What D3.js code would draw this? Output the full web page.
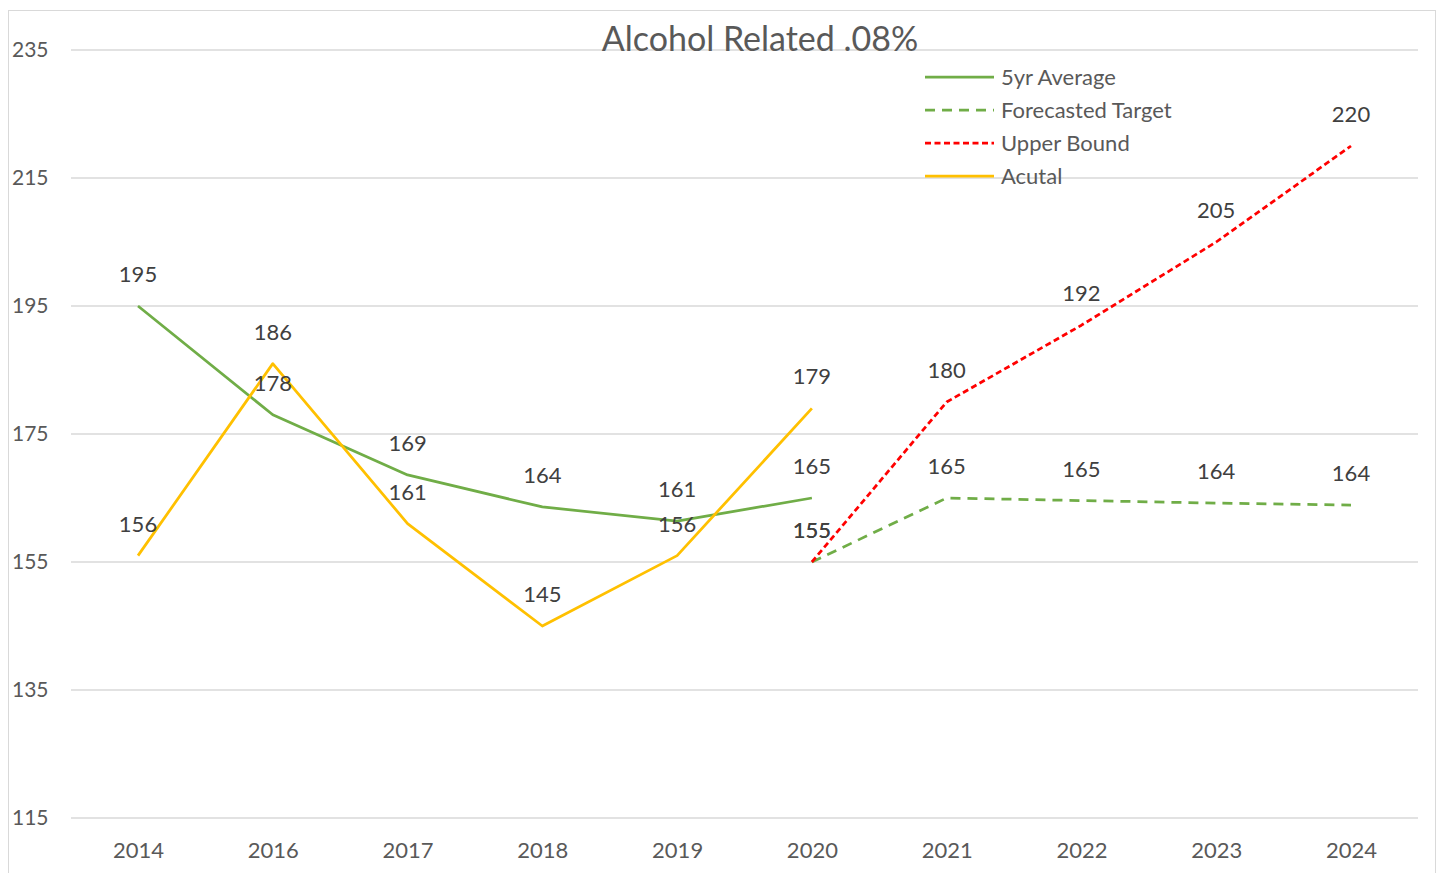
<!DOCTYPE html>
<html><head><meta charset="utf-8">
<script src="https://cdn.jsdelivr.net/npm/d3@7"></script>
<style>body{margin:0;background:#fff;} svg{display:block;font-family:Lato,"Open Sans",sans-serif;}</style>
</head><body><svg id="c" width="1438" height="873"></svg>
<script>
const categories = ["2014","2016","2017","2018","2019","2020","2021","2022","2023","2024"];
const avgYears = ["2014","2016","2017","2018","2019","2020"];
const avgValues = [195,178,168.6,163.6,161.4,165];
const actualValues = [156,186,161,145,156,179];
const forecastYears = ["2020","2021","2022","2023","2024"];
const forecastValues = [155,165,164.6,164.2,163.9];
const upperValues = [155,180,192,205,220];
const yTicks = [115,135,155,175,195,215,235];
const title = "Alcohol Related .08%";

const svg = d3.select("#c");
svg.append("rect").attr("x",8.5).attr("y",10.5).attr("width",1427).attr("height",880)
  .attr("fill","#fff").attr("stroke","#d9d9d9").attr("stroke-width",1);

const x = d3.scalePoint().domain(categories).range([138,1351]);
const y = d3.scaleLinear().domain([115,235]).range([818,50]);

svg.append("g").selectAll("line").data(yTicks).join("line")
  .attr("x1",71).attr("x2",1418).attr("y1",d=>y(d)).attr("y2",d=>y(d))
  .attr("stroke","#d9d9d9").attr("stroke-width",1.5);

const yAxis = d3.axisLeft(y).tickValues(yTicks).tickSize(0).tickPadding(0);
const gy = svg.append("g").attr("transform","translate(12,0)").call(yAxis);
gy.select(".domain").remove();
gy.selectAll("text").attr("text-anchor","start").attr("x",0).attr("fill","#595959").style("font-size","21px").style("font-family","Lato");

const xAxis = d3.axisBottom(x).tickSize(0).tickPadding(0);
const gx = svg.append("g").attr("transform","translate(0,842)").call(xAxis);
gx.select(".domain").remove();
gx.selectAll("text").attr("fill","#595959").style("font-size","22px").style("font-family","Lato");

svg.append("text").attr("x",760).attr("y",51).attr("text-anchor","middle")
  .attr("fill","#595959").style("font-size","34px").text(title);

const line = d3.line().x(d=>x(d[0])).y(d=>y(d[1]));
const avgData = avgYears.map((c,i)=>[c,avgValues[i]]);
const actData = avgYears.map((c,i)=>[c,actualValues[i]]);
const fcData = forecastYears.map((c,i)=>[c,forecastValues[i]]);
const upData = forecastYears.map((c,i)=>[c,upperValues[i]]);

const series = [
  {data:avgData, color:"#70AD47", dash:null, name:"5yr Average"},
  {data:fcData, color:"#70AD47", dash:"10,7", name:"Forecasted Target"},
  {data:upData, color:"#FF0000", dash:"6,3.5", name:"Upper Bound"},
  {data:actData, color:"#FFC000", dash:null, name:"Acutal"}
];
const drawOrder = [series[0], series[3], series[1], series[2]];
drawOrder.forEach(s=>{
  svg.append("path").datum(s.data).attr("d",line).attr("fill","none")
    .attr("stroke",s.color).attr("stroke-width",2.75).attr("stroke-dasharray",s.dash)
    .attr("stroke-linejoin","round");
});
drawOrder.forEach(s=>{
  svg.append("g").selectAll("text").data(s.data).join("text")
    .attr("x",d=>x(d[0])).attr("y",d=>y(d[1])-24).attr("text-anchor","middle")
    .attr("fill","#404040").style("font-size","22px").text(d=>Math.round(d[1]));
});

const lg = svg.append("g");
series.forEach((s,i)=>{
  const yy = 77 + i*33;
  lg.append("line").attr("x1",925).attr("x2",994).attr("y1",yy).attr("y2",yy)
    .attr("stroke",s.color).attr("stroke-width",2.75).attr("stroke-dasharray",s.dash);
  lg.append("text").attr("x",1001).attr("y",yy+8).attr("fill","#595959")
    .style("font-size","22px").text(s.name);
});
</script></body></html>
